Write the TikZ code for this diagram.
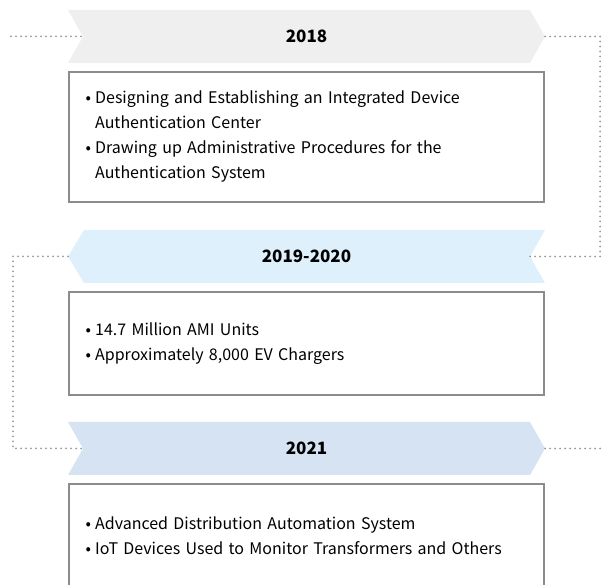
\documentclass[tikz,border=0pt]{standalone}
\usepackage{fontspec}
\setmainfont{Noto Sans CJK KR}
\usetikzlibrary{positioning}

\definecolor{band2018}{HTML}{EFEFEF}
\definecolor{band1920}{HTML}{DDF0FB}
\definecolor{band2021}{HTML}{D6E3F3}
\definecolor{boxgray}{HTML}{8C8C8C}
\definecolor{dotgray}{HTML}{999999}

\tikzset{
  year/.style={inner sep=0pt, font=\fontsize{17}{20}\selectfont\bfseries},
  entry/.style={draw=boxgray, line width=1.1pt, minimum width=475pt, inner sep=0pt},
  items/.style={inner sep=0pt, text width=440pt, align=left, font=\fontsize{16}{25}\selectfont},
  trail/.style={draw=dotgray, line width=2pt, line cap=round, dash pattern=on 0pt off 5pt},
}
\newcommand{\itm}[1]{\hangindent=9.5pt\hangafter=1\noindent\makebox[9.5pt][l]{•}#1\par}

\begin{document}
\begin{tikzpicture}[x=1pt,y=-1pt]
\useasboundingbox (0,0) rectangle (603,585);
% 2018
\fill[band2018] (68,10) -- (530,10) -- (545,36.5) -- (530,63) -- (68,63) -- (83,36.5) -- cycle;
\node[year] (y2018) at (306.5,36.5) {2018};
\coordinate (t2018w) at (83,36.5);
\coordinate (t2018e) at (545,36.5);
\node[entry, minimum height=130pt] (e2018) at (306.5,137) {};
\node[items, right=17pt of e2018.west] (i2018) {\itm{Designing and Establishing an Integrated Device\break Authentication Center}\itm{Drawing up Administrative Procedures for the\break Authentication System}};
% 2019-2020
\fill[band1920] (84,230) -- (545,230) -- (530,256.5) -- (545,283) -- (84,283) -- (68,256.5) -- cycle;
\node[year] (y1920) at (306.5,256.5) {2019-2020};
\coordinate (t1920w) at (68,256.5);
\coordinate (t1920e) at (530,256.5);
\node[entry, minimum height=103pt] (e1920) at (306.5,343.5) {};
\node[items, right=17pt of e1920.west] (i1920) {\itm{14.7 Million AMI Units}\itm{Approximately 8,000 EV Chargers}};
% 2021
\fill[band2021] (68,422) -- (530,422) -- (545,448.5) -- (530,475) -- (68,475) -- (83,448.5) -- cycle;
\node[year] (y2021) at (306.5,448.5) {2021};
\coordinate (t2021w) at (83,448.5);
\coordinate (t2021e) at (545,448.5);
\node[entry, minimum height=103pt] (e2021) at (306.5,535.5) {};
\node[items, right=17pt of e2021.west] (i2021) {\itm{Advanced Distribution Automation System}\itm{IoT Devices Used to Monitor Transformers and Others}};
% dotted trail
\coordinate (start) at (11,36.5);
\coordinate (finish) at (603,448.5);
\draw[trail] (start) -- (t2018w);
\draw[trail] (t2018e) -- ++(55,0) |- (t1920e);
\draw[trail] (t1920w) -- ++(-55,0) |- (t2021w);
\draw[trail] (t2021e) -- (finish);
\end{tikzpicture}
\end{document}
